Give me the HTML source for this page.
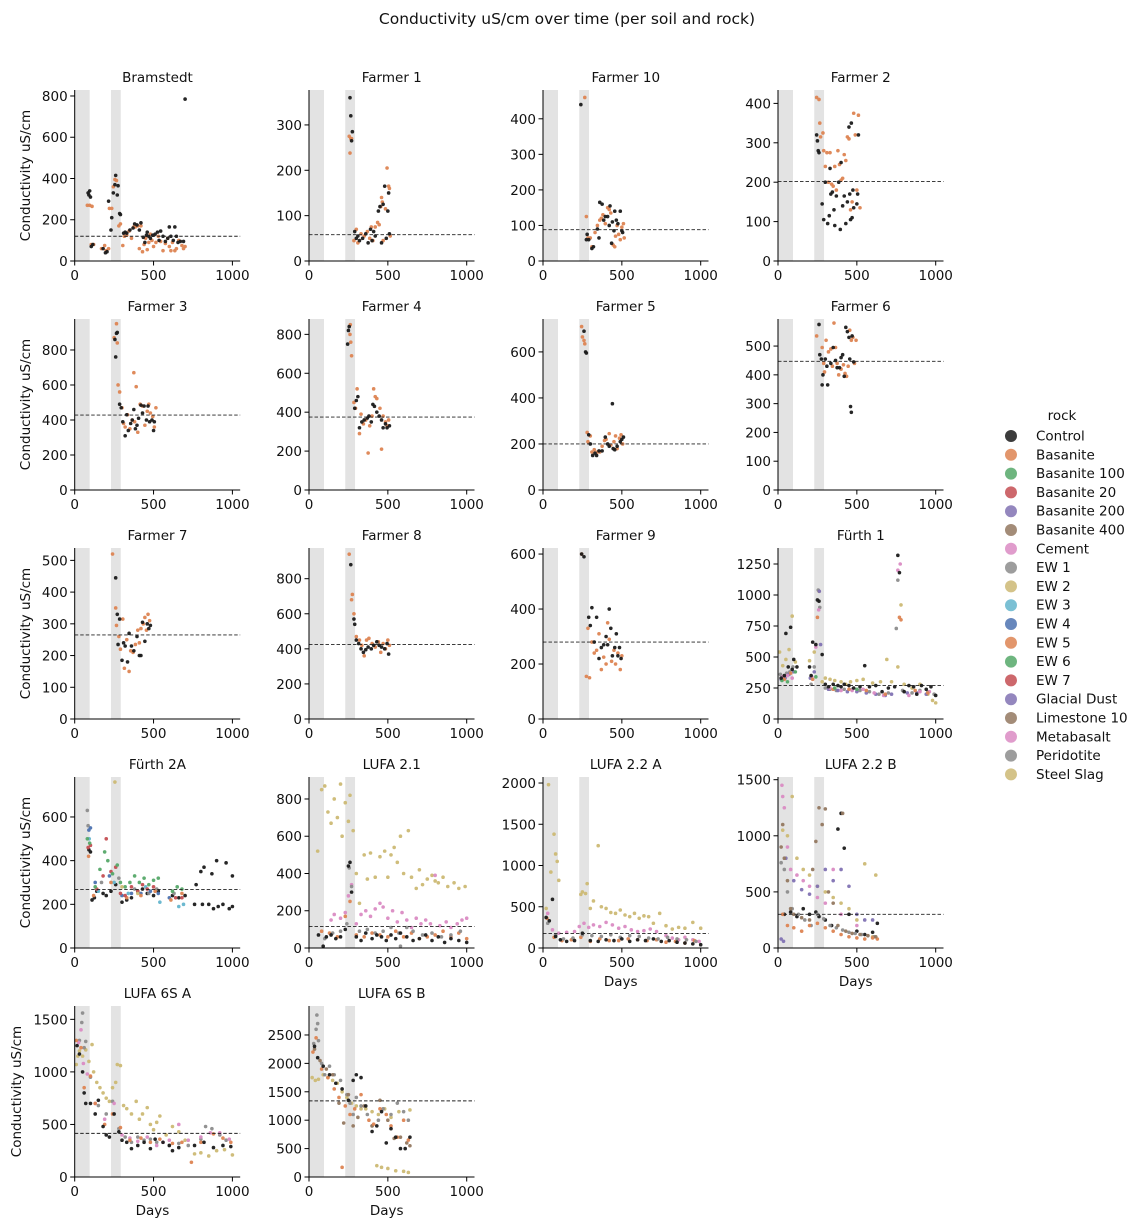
<!DOCTYPE html>
<html><head><meta charset="utf-8"><style>
body{margin:0;background:#fff}
svg{display:block;font-family:"DejaVu Sans","Liberation Sans",sans-serif}
</style></head><body>
<svg id="chart" width="1142" height="1230" viewBox="0 0 1142 1230" xmlns="http://www.w3.org/2000/svg">
<rect width="1142" height="1230" fill="#fff"/>
<text x="567" y="24" font-size="15.5" text-anchor="middle" fill="#111">Conductivity uS/cm over time (per soil and rock)</text>
<g id="panels"></g>
<g id="legend"></g>
</svg>
<script>
const bramControl=[[85,330],[90,320],[95,340],[100,310],[105,70],[115,80],[180,60],[195,40],[205,45],[215,290],[230,150],[235,210],[245,330],[255,370],[260,415],[270,320],[275,365],[285,230],[290,225],[310,135],[320,140],[330,135],[350,150],[370,160],[380,180],[395,175],[410,150],[420,185],[435,115],[445,90],[455,125],[460,140],[470,120],[480,110],[495,125],[510,130],[525,140],[535,100],[545,145],[560,120],[575,95],[590,110],[600,165],[610,120],[625,100],[635,165],[645,120],[655,90],[670,95],[690,95],[700,785]];
const bramBasanite=[[80,270],[95,270],[110,265],[105,80],[120,80],[170,60],[190,75],[200,50],[215,60],[220,255],[235,255],[245,360],[255,395],[265,390],[280,170],[290,180],[305,75],[315,120],[330,125],[345,145],[360,110],[375,165],[385,165],[400,170],[410,60],[420,170],[430,45],[440,80],[450,110],[460,55],[470,90],[480,130],[490,100],[500,70],[515,90],[530,120],[545,95],[560,50],[575,85],[590,110],[600,70],[610,50],[620,90],[635,50],[645,60],[660,100],[680,75],[690,60],[700,70]];
const f1Control=[[260,360],[265,320],[270,265],[275,285],[290,65],[300,50],[310,55],[320,45],[340,50],[360,60],[375,40],[390,70],[400,45],[410,65],[420,55],[440,110],[450,120],[460,40],[470,125],[480,165],[490,50],[500,110],[505,150],[510,60]];
const f1Basanite=[[255,275],[260,238],[265,270],[270,270],[285,45],[300,70],[310,40],[330,60],[350,55],[370,65],[385,50],[395,75],[405,45],[420,75],[435,85],[445,80],[455,120],[460,140],[465,130],[470,45],[485,115],[495,205],[505,165],[510,160],[515,55]];
const f10Control=[[240,440],[275,60],[280,75],[290,60],[310,35],[320,40],[345,90],[355,65],[360,165],[375,160],[385,115],[395,125],[410,125],[420,100],[425,155],[435,50],[440,110],[450,85],[455,140],[465,115],[475,105],[490,140],[500,85],[505,80]];
const f10Basanite=[[265,460],[275,125],[285,65],[300,65],[310,40],[330,80],[345,100],[360,115],[370,120],[380,130],[395,105],[410,150],[420,145],[430,135],[445,45],[455,40],[460,70],[470,100],[480,75],[490,60],[500,95],[510,105],[515,65]];
const f2Control=[[245,320],[250,305],[255,280],[260,275],[280,145],[290,105],[300,200],[315,95],[325,115],[330,235],[335,170],[345,175],[355,130],[360,90],[370,165],[385,200],[395,80],[400,250],[410,140],[420,165],[430,95],[440,150],[450,340],[455,170],[460,105],[465,350],[470,110],[475,180],[480,135],[500,145],[505,170],[510,320]];
const f2Basanite=[[245,415],[260,410],[265,350],[270,315],[285,325],[290,280],[300,240],[310,275],[320,200],[330,275],[340,195],[350,190],[360,240],[370,180],[380,280],[390,245],[400,205],[410,210],[420,270],[430,255],[440,315],[450,310],[460,130],[470,150],[480,375],[490,320],[500,180],[510,370],[520,135]];
const f3Control=[[255,860],[260,760],[265,895],[270,900],[285,490],[295,470],[305,390],[320,310],[330,430],[340,340],[355,380],[365,400],[375,460],[385,350],[395,370],[405,410],[420,485],[430,440],[440,480],[455,400],[465,480],[475,390],[490,400],[500,340],[505,390]];
const f3Basanite=[[250,870],[265,950],[270,840],[275,600],[285,560],[300,470],[310,380],[320,360],[335,430],[350,350],[365,400],[375,670],[380,390],[390,590],[400,330],[415,490],[430,480],[445,370],[460,450],[470,490],[480,440],[495,420],[505,360],[515,470]];
const f4Control=[[245,750],[250,820],[255,840],[290,420],[300,460],[310,480],[320,320],[335,350],[350,360],[370,370],[380,380],[395,350],[405,440],[415,430],[430,400],[445,380],[460,360],[470,320],[485,340],[495,320],[510,330]];
const f4Basanite=[[260,800],[262,850],[265,760],[270,690],[285,450],[295,420],[305,520],[320,290],[330,390],[345,340],[360,360],[375,190],[385,330],[400,380],[410,520],[420,480],[430,470],[450,420],[460,210],[470,380],[485,350],[495,330],[505,360]];
const f5Control=[[260,690],[270,600],[275,595],[290,240],[300,200],[315,150],[330,160],[340,150],[355,170],[375,170],[395,230],[410,200],[420,190],[440,375],[445,180],[455,175],[470,190],[490,210],[500,220],[510,230]];
const f5Basanite=[[245,710],[250,665],[260,650],[265,635],[280,250],[285,210],[300,235],[310,165],[325,175],[345,165],[360,165],[375,190],[390,215],[400,220],[420,245],[430,195],[450,210],[460,235],[470,180],[485,225],[495,240],[505,200]];
const f6Control=[[260,575],[265,470],[275,455],[280,365],[285,400],[300,455],[310,430],[315,365],[335,440],[350,495],[365,450],[375,425],[390,425],[400,460],[410,470],[420,395],[430,565],[440,550],[450,530],[455,455],[460,290],[465,270],[470,535],[480,445]];
const f6Basanite=[[245,535],[280,495],[290,440],[295,410],[305,520],[320,480],[335,490],[345,430],[355,580],[365,495],[375,440],[385,400],[400,420],[415,435],[425,405],[435,395],[445,430],[455,555],[465,520],[475,530],[485,440],[495,520]];
const f7Control=[[260,445],[270,330],[275,235],[285,315],[300,185],[310,240],[320,230],[335,180],[345,270],[360,230],[375,215],[395,260],[410,200],[420,200],[430,305],[445,245],[460,300],[470,285],[480,295]];
const f7Basanite=[[240,520],[260,350],[265,295],[280,260],[290,220],[305,315],[315,160],[330,250],[345,150],[355,215],[370,210],[385,235],[400,280],[410,240],[420,285],[435,300],[445,320],[455,280],[465,330],[475,310]];
const f8Control=[[265,880],[285,570],[290,540],[300,450],[315,430],[330,400],[345,380],[360,395],[375,410],[395,400],[410,420],[430,440],[445,420],[460,410],[480,400],[495,430],[505,370]];
const f8Basanite=[[255,940],[270,680],[275,710],[285,600],[300,470],[320,450],[335,420],[350,360],[365,450],[380,460],[400,430],[420,410],[440,440],[455,380],[470,430],[485,400],[500,450],[510,420]];
const f9Control=[[245,600],[260,590],[290,370],[300,340],[310,405],[325,280],[340,370],[355,220],[370,260],[385,270],[400,300],[410,270],[420,400],[430,330],[440,230],[455,260],[465,310],[475,230],[485,260],[495,220]];
const f9Basanite=[[245,600],[275,155],[285,330],[295,150],[310,280],[325,240],[340,250],[355,310],[370,180],[385,225],[400,200],[410,350],[420,290],[435,210],[450,250],[460,200],[475,240],[490,180],[500,230]];
const fu1Control=[[20,330],[40,350],[50,690],[65,420],[80,740],[90,400],[100,480],[120,420],[200,420],[210,350],[220,620],[240,600],[250,960],[260,950],[280,520],[300,280],[320,260],[350,280],[380,270],[400,260],[420,280],[450,270],[480,250],[520,260],[550,430],[580,260],[620,270],[660,220],[700,250],[740,260],[760,1320],[770,1180],[800,220],[830,270],[860,260],[880,200],[910,270],[940,240],[970,260],[1000,190]];
const fu1EW2=[[10,540],[30,430],[50,480],[70,560],[90,830],[110,460],[200,470],[230,540],[260,1030],[280,300],[300,330],[330,320],[360,310],[400,300],[430,280],[460,300],[500,310],[540,320],[600,290],[650,300],[690,480],[720,300],[760,420],[780,920],[800,280],[850,250],[900,280],[950,200],[980,150],[1000,130]];
const fu1EW1=[[15,360],[35,340],[55,370],[75,380],[95,420],[210,280],[230,420],[255,1040],[265,900],[300,250],[330,240],[370,230],[420,240],[470,240],[520,230],[580,220],[640,200],[700,210],[750,730],[760,1120],[790,230],[850,210],[900,230],[950,220],[990,200]];
const fu1Glacial=[[20,320],[45,330],[70,360],[100,380],[205,330],[230,380],[262,1030],[270,600],[320,240],[380,230],[440,220],[500,220],[560,210],[620,200],[680,190],[720,200],[820,210],[880,210],[940,200]];
const fu1Meta=[[30,340],[60,350],[90,330],[215,340],[240,580],[258,880],[330,250],[400,230],[470,230],[540,240],[610,210],[670,190],[760,1200],[775,1250],[830,190],[900,220],[960,220]];
const fu1EW5=[[40,320],[80,370],[220,320],[250,820],[350,240],[450,240],[560,230],[680,200],[770,820],[780,800],[870,230],[950,210]];
const fu1EW6=[[25,310],[60,300],[110,380],[240,340],[360,250],[500,240]];
const fu2Control=[[90,450],[100,440],[110,220],[125,230],[140,260],[180,250],[200,240],[230,260],[260,290],[300,210],[330,220],[360,230],[400,260],[430,270],[460,250],[500,240],[530,260],[620,240],[660,230],[700,240],[760,200],[770,290],[800,350],[810,200],[820,370],[850,200],[870,340],[880,180],[900,400],[910,190],[940,200],[960,390],[980,180],[1000,190],[1000,330]];
const fu2EW6=[[80,500],[95,480],[130,280],[160,360],[190,440],[210,400],[240,340],[270,380],[290,300],[320,280],[350,300],[380,330],[410,300],[440,320],[470,290],[500,310],[530,320],[620,260],[650,280],[680,270]];
const fu2EW7=[[85,460],[100,470],[140,270],[180,330],[200,500],[230,350],[260,370],[290,250],[320,240],[360,280],[400,260],[430,290],[460,270],[500,280],[640,230],[680,230]];
const fu2EW4=[[90,540],[100,550],[130,300],[220,330],[300,240],[360,250],[420,250],[480,260],[530,250],[600,230]];
const fu2EW3=[[92,500],[150,260],[250,300],[340,250],[450,280],[540,210],[660,190],[690,200]];
const fu2EW1=[[80,630],[85,560],[170,300],[280,320],[380,270],[470,250],[520,270],[630,250]];
const fu2EW5=[[88,420],[120,240],[230,300],[330,230],[420,240],[510,260],[610,220],[680,250]];
const fu2EW2=[[255,760],[300,280],[400,250]];
const l21Slag=[[55,520],[80,850],[100,870],[120,730],[140,670],[160,800],[180,700],[200,880],[210,600],[230,780],[250,680],[260,820],[280,630],[300,400],[320,240],[350,500],[370,370],[390,510],[420,380],[450,490],[480,520],[500,380],[520,500],[540,540],[560,460],[580,600],[600,400],[630,630],[650,380],[680,320],[700,420],[720,340],[750,370],[780,390],[800,360],[820,350],[850,380],[880,330],[920,350],[950,320],[990,330]];
const l21Meta=[[140,150],[160,180],[200,160],[230,190],[250,280],[270,340],[300,130],[330,180],[360,200],[390,170],[420,210],[450,240],[470,220],[500,160],[530,200],[560,140],[590,190],[620,150],[650,110],[680,160],[710,130],[740,150],[770,130],[800,390],[830,120],[870,140],[900,110],[940,130],[970,150],[1000,160]];
const l21Control=[[60,70],[90,10],[110,60],[140,70],[170,50],[200,60],[230,100],[250,440],[260,460],[270,300],[300,60],[330,40],[360,80],[400,50],[430,70],[460,60],[490,40],[520,70],[550,50],[580,80],[620,60],[660,40],[700,50],[740,70],[780,40],[820,60],[860,30],[900,50],[950,40],[1000,30]];
const l21Basanite=[[80,90],[130,80],[180,60],[230,170],[260,250],[300,70],[350,60],[400,80],[450,70],[500,60],[550,90],[600,60],[650,80],[700,50],[750,60],[800,70],[850,90],[900,60],[950,80],[1000,50]];
const l21Peri=[[100,50],[150,80],[200,90],[240,130],[255,430],[270,330],[320,90],[370,100],[420,80],[470,90],[520,110],[570,80],[580,10],[620,110],[660,90],[720,70],[780,80],[840,60],[900,70],[960,90]];
const l22aSlag=[[20,480],[35,1980],[50,920],[70,1380],[80,1140],[90,1050],[100,820],[240,650],[250,680],[270,660],[280,780],[300,480],[320,570],[350,1240],[370,500],[400,480],[430,430],[460,420],[490,460],[520,400],[550,380],[580,420],[610,360],[640,390],[670,380],[700,300],[740,420],[780,270],[820,230],[860,250],[900,240],[950,310],[1000,240]];
const l22aMeta=[[30,420],[60,220],[100,180],[150,190],[200,200],[230,260],[260,300],[290,250],[320,280],[360,260],[400,310],[440,280],[480,240],[520,260],[560,220],[600,200],[640,210],[680,230],[720,200],[780,150],[820,120],[860,100],[900,130],[950,100],[990,80]];
const l22aControl=[[20,370],[40,330],[60,590],[80,140],[110,100],[150,80],[200,90],[250,180],[300,90],[350,80],[400,100],[450,90],[500,110],[550,80],[600,100],[650,90],[700,110],[750,80],[800,90],[850,70],[900,60],[950,50],[1000,40]];
const l22aBasanite=[[25,360],[70,130],[120,90],[180,100],[240,130],[300,80],[360,110],[420,90],[480,90],[540,110],[600,100],[660,90],[720,100],[780,70],[840,80],[900,60],[960,90]];
const l22aPeri=[[30,300],[80,160],[130,110],[190,120],[250,160],[310,150],[370,140],[430,160],[490,130],[550,150],[610,140],[670,120],[730,110],[790,130],[850,110],[910,100],[970,80]];
const l22bLime=[[20,900],[30,1100],[40,800],[60,600],[80,350],[100,300],[150,270],[200,250],[220,700],[240,950],[260,1250],[280,1100],[300,1240],[320,500],[350,400],[380,200],[410,1200],[430,150],[470,130],[520,120],[570,110],[620,100]];
const l22bMeta=[[25,1450],[30,1350],[40,1250],[60,900],[80,700],[120,650],[160,600],[200,550],[250,450],[300,400],[350,700],[400,300],[500,200]];
const l22bGlacial=[[20,80],[35,60],[50,800],[100,600],[150,520],[200,480],[250,550],[300,700],[350,600],[400,700],[450,550],[500,300],[550,250],[600,250]];
const l22bPeri=[[20,760],[40,700],[60,500],[90,350],[130,300],[170,250],[210,200],[250,300],[290,260],[330,200],[370,180],[410,160],[450,140],[490,130],[530,120],[570,110],[610,100]];
const l22bBasanite=[[30,300],[60,200],[100,180],[150,150],[200,200],[250,220],[300,180],[350,150],[400,120],[450,100],[500,90],[550,80],[600,90],[630,80]];
const l22bSlag=[[30,1050],[60,1000],[90,1350],[120,800],[160,700],[200,650],[250,550],[300,500],[350,450],[400,400],[450,350],[500,250],[550,750],[600,100],[620,650]];
const l22bControl=[[40,300],[80,320],[120,280],[160,350],[200,300],[240,320],[260,280],[300,250],[340,200],[380,1060],[400,1200],[420,890],[450,300],[500,150],[550,120],[600,140],[630,220]];
const l6aSlag=[[10,1070],[20,1150],[30,1200],[50,1150],[70,1210],[90,1100],[110,1260],[120,1000],[140,900],[160,850],[180,800],[200,750],[220,720],[240,850],[260,900],[270,1070],[290,1060],[310,680],[330,650],[360,600],[390,720],[410,550],[430,600],[460,660],[480,500],[500,450],[520,520],[540,580],[580,400],[620,480],[660,430],[700,350],[760,220],[800,230],[850,200],[900,250],[950,260],[1000,210]];
const l6aPeri=[[30,1300],[45,1470],[50,1560],[60,1230],[70,1290],[100,950],[150,680],[200,600],[240,720],[280,460],[320,380],[360,330],[400,380],[440,350],[480,360],[520,330],[600,300],[660,320],[720,300],[800,360],[830,480],[870,460],[920,400],[960,350]];
const l6aMeta=[[25,1280],[40,1400],[55,1080],[80,980],[130,700],[190,550],[250,700],[300,400],[350,370],[400,340],[460,380],[520,300],[560,330],[600,350],[660,500],[720,350],[800,380],[860,420],[920,420],[980,360]];
const l6aControl=[[15,1250],[30,1170],[50,1000],[60,800],[70,700],[100,700],[130,600],[150,730],[180,480],[200,400],[220,380],[250,600],[280,430],[300,350],[330,330],[360,270],[400,300],[440,330],[480,270],[510,360],[560,330],[600,300],[620,250],[660,280],[760,300],[820,330],[880,280],[940,300],[990,290]];
const l6aBasanite=[[10,1300],[40,1230],[60,850],[100,960],[130,700],[190,500],[240,600],[290,470],[350,350],[420,370],[480,330],[540,360],[620,320],[680,330],[740,140],[800,330],[880,410],[940,370],[990,330]];
const l6bPeri=[[30,2350],[45,2600],[50,2850],[55,2700],[60,2400],[80,2000],[100,1800],[130,1950],[160,1800],[200,1700],[240,1450],[260,1300],[280,1100],[300,1400],[330,1250],[370,1100],[400,900],[440,1000],[470,1200],[520,1100],[560,1300],[600,1150],[630,1000]];
const l6bSlag=[[20,1750],[40,1700],[60,1720],[90,1800],[120,1750],[150,1700],[180,1650],[210,1500],[240,1400],[270,1300],[300,1250],[330,1200],[360,1200],[400,1150],[430,200],[440,1100],[460,170],[480,1200],[500,150],[520,1050],[550,110],[570,1150],[600,100],[630,80],[640,1180]];
const l6bBasanite=[[25,2200],[45,2450],[80,1900],[120,1750],[160,1550],[190,1400],[210,170],[230,1250],[260,1100],[290,1200],[330,1450],[380,1000],[410,930],[450,1200],[490,1100],[520,900],[560,700],[600,1000],[630,650]];
const l6bLime=[[35,2250],[70,2050],[110,1900],[150,1800],[190,1300],[220,950],[250,1450],[280,900],[310,1050],[350,1250],[400,900],[450,1350],[500,1000],[540,680],[580,700],[620,600],[640,550]];
const l6bControl=[[35,2300],[55,2100],[90,1950],[130,1800],[170,1650],[210,1550],[250,1350],[280,1700],[300,1800],[330,1750],[360,1250],[400,800],[430,900],[460,1150],[490,600],[520,850],[550,700],[580,500],[610,500],[640,700]];

const panelTitles=["Bramstedt","Farmer 1","Farmer 10","Farmer 2","Farmer 3","Farmer 4","Farmer 5","Farmer 6","Farmer 7","Farmer 8","Farmer 9","Fürth 1","Fürth 2A","LUFA 2.1","LUFA 2.2 A","LUFA 2.2 B","LUFA 6S A","LUFA 6S B"];
const panelYMax=[829,377,481,434,977,879,743,594,539,975,622,1379,783,918,2073,1524,1627,3010];
const panelYStep=[200,100,100,100,200,200,200,100,100,200,200,250,200,200,500,500,500,500];
const panelYTop=[800,300,400,400,800,800,600,500,500,800,600,1250,600,800,2000,1500,1500,2500];
const panelMean=[120,58,88,202,428,375,200,447,265,425,280,270,268,115,175,300,415,1340];
const xTicks=[0,500,1000];
const legendLabels=["Control","Basanite","Basanite 100","Basanite 20","Basanite 200","Basanite 400","Cement","EW 1","EW 2","EW 3","EW 4","EW 5","EW 6","EW 7","Glacial Dust","Limestone 10","Metabasalt","Peridotite","Steel Slag"];

const C={ctrl:'#1a1a1a',orange:'#dd8452',green:'#55a868',red:'#c44e52',purple:'#8172b3',brown:'#937860',pink:'#da8bc3',gray:'#8c8c8c',khaki:'#ccb974',cyan:'#64b5cd',blue:'#4c72b0'};
const legendColors=[C.ctrl,C.orange,C.green,C.red,C.purple,C.brown,C.pink,C.gray,C.khaki,C.cyan,C.blue,C.orange,C.green,C.red,C.purple,C.brown,C.pink,C.gray,C.khaki];
const panelSeries=[
 [[bramBasanite,C.orange],[bramControl,C.ctrl]],
 [[f1Basanite,C.orange],[f1Control,C.ctrl]],
 [[f10Basanite,C.orange],[f10Control,C.ctrl]],
 [[f2Basanite,C.orange],[f2Control,C.ctrl]],
 [[f3Basanite,C.orange],[f3Control,C.ctrl]],
 [[f4Basanite,C.orange],[f4Control,C.ctrl]],
 [[f5Basanite,C.orange],[f5Control,C.ctrl]],
 [[f6Basanite,C.orange],[f6Control,C.ctrl]],
 [[f7Basanite,C.orange],[f7Control,C.ctrl]],
 [[f8Basanite,C.orange],[f8Control,C.ctrl]],
 [[f9Basanite,C.orange],[f9Control,C.ctrl]],
 [[fu1EW2,C.khaki],[fu1EW1,C.gray],[fu1Glacial,C.purple],[fu1Meta,C.pink],[fu1EW5,C.orange],[fu1EW6,C.green],[fu1Control,C.ctrl]],
 [[fu2Control,C.ctrl],[fu2EW1,C.gray],[fu2EW4,C.blue],[fu2EW3,C.cyan],[fu2EW5,C.orange],[fu2EW7,C.red],[fu2EW6,C.green],[fu2EW2,C.khaki]],
 [[l21Slag,C.khaki],[l21Meta,C.pink],[l21Basanite,C.orange],[l21Peri,C.gray],[l21Control,C.ctrl]],
 [[l22aSlag,C.khaki],[l22aMeta,C.pink],[l22aBasanite,C.orange],[l22aPeri,C.gray],[l22aControl,C.ctrl]],
 [[l22bSlag,C.khaki],[l22bMeta,C.pink],[l22bGlacial,C.purple],[l22bControl,C.ctrl],[l22bPeri,C.gray],[l22bBasanite,C.orange],[l22bLime,C.brown]],
 [[l6aSlag,C.khaki],[l6aPeri,C.gray],[l6aMeta,C.pink],[l6aBasanite,C.orange],[l6aControl,C.ctrl]],
 [[l6bSlag,C.khaki],[l6bPeri,C.gray],[l6bLime,C.brown],[l6bBasanite,C.orange],[l6bControl,C.ctrl]]
];

const NS='http://www.w3.org/2000/svg';
function mk(tag,attrs,parent){const e=document.createElementNS(NS,tag);for(const k in attrs)e.setAttribute(k,attrs[k]);parent.appendChild(e);return e;}
const colX=[74.7,309,543,778], rowTop=[90,319,548,777,1006], AH=171, PXD=0.1577, AW=165.5;
const FS=13.5;
const root=document.getElementById('panels');
const slug=s=>s.toLowerCase().replace('ü','u').replace(/[^a-z0-9]+/g,'-');
panelTitles.forEach((title,i)=>{
  const col=i%4,row=Math.floor(i/4);
  const x0=colX[col],yb=rowTop[row]+AH,ymax=panelYMax[i];
  const xs=d=>x0+d*PXD, ys=v=>yb-v/ymax*AH;
  const g=mk('g',{},root);
  
  
  [[0,95],[230,292]].forEach(s=>{
    const r=mk('rect',{x:xs(s[0]),y:rowTop[row],width:(s[1]-s[0])*PXD,height:AH,fill:'#e3e3e3'},g);
    
    
  });
  panelSeries[i].forEach(s=>{
    s[0].forEach(p=>{
      const c=mk('circle',{cx:xs(p[0]),cy:ys(p[1]),r:1.8,fill:s[1],'fill-opacity':0.95},g);
      
      
    });
  });
  const ml=mk('line',{x1:x0,x2:x0+AW,y1:ys(panelMean[i]),y2:ys(panelMean[i]),stroke:'#222','stroke-width':0.9,'stroke-dasharray':'3.5,2'},g);
  
  
  const ya=mk('line',{x1:x0,x2:x0,y1:rowTop[row],y2:yb,stroke:'#000','stroke-width':1},g);
  
  
  const xa=mk('line',{x1:x0,x2:x0+AW,y1:yb,y2:yb,stroke:'#000','stroke-width':1},g);
  
  
  xTicks.forEach(t=>{
    mk('line',{x1:xs(t),x2:xs(t),y1:yb,y2:yb+4.5,stroke:'#000','stroke-width':1},g);
    const tx=mk('text',{x:xs(t),y:yb+19,'font-size':FS,'text-anchor':'middle',fill:'#111'},g);
    tx.textContent=t;
    
    
  });
  for(let v=0;v<=panelYTop[i];v+=panelYStep[i]){
    mk('line',{x1:x0-4.5,x2:x0,y1:ys(v),y2:ys(v),stroke:'#000','stroke-width':1},g);
    const ty=mk('text',{x:x0-7,y:ys(v)+5,'font-size':FS,'text-anchor':'end',fill:'#111'},g);
    ty.textContent=v;
    
    
  }
  const tt=mk('text',{x:x0+AW/2,y:rowTop[row]-8,'font-size':FS,'text-anchor':'middle',fill:'#111'},g);
  tt.textContent=title;
  
  
  if(col===0){
    const lx=row===4?21:30, cy=rowTop[row]+AH/2;
    const yl=mk('text',{x:lx,y:cy,'font-size':FS,'text-anchor':'middle',fill:'#111',transform:`rotate(-90 ${lx} ${cy})`},g);
    yl.textContent='Conductivity uS/cm';
    
    
  }
  if(i>=14){
    const xl=mk('text',{x:x0+AW/2-5,y:yb+38,'font-size':FS,'text-anchor':'middle',fill:'#111'},g);
    xl.textContent='Days';
    
    
  }
});
const lg=document.getElementById('legend');
const lt=mk('text',{x:1062,y:420,'font-size':FS,'text-anchor':'middle',fill:'#111'},lg);
lt.textContent='rock';


legendLabels.forEach((lab,k)=>{
  const y=436+k*18.8;
  const e=mk('g',{},lg);
  
  
  mk('circle',{cx:1011,cy:y,r:6,fill:legendColors[k],'fill-opacity':0.85},e);
  const t=mk('text',{x:1036,y:y+4.5,'font-size':FS,fill:'#111'},e);
  t.textContent=lab;
});
</script>
</body></html>
